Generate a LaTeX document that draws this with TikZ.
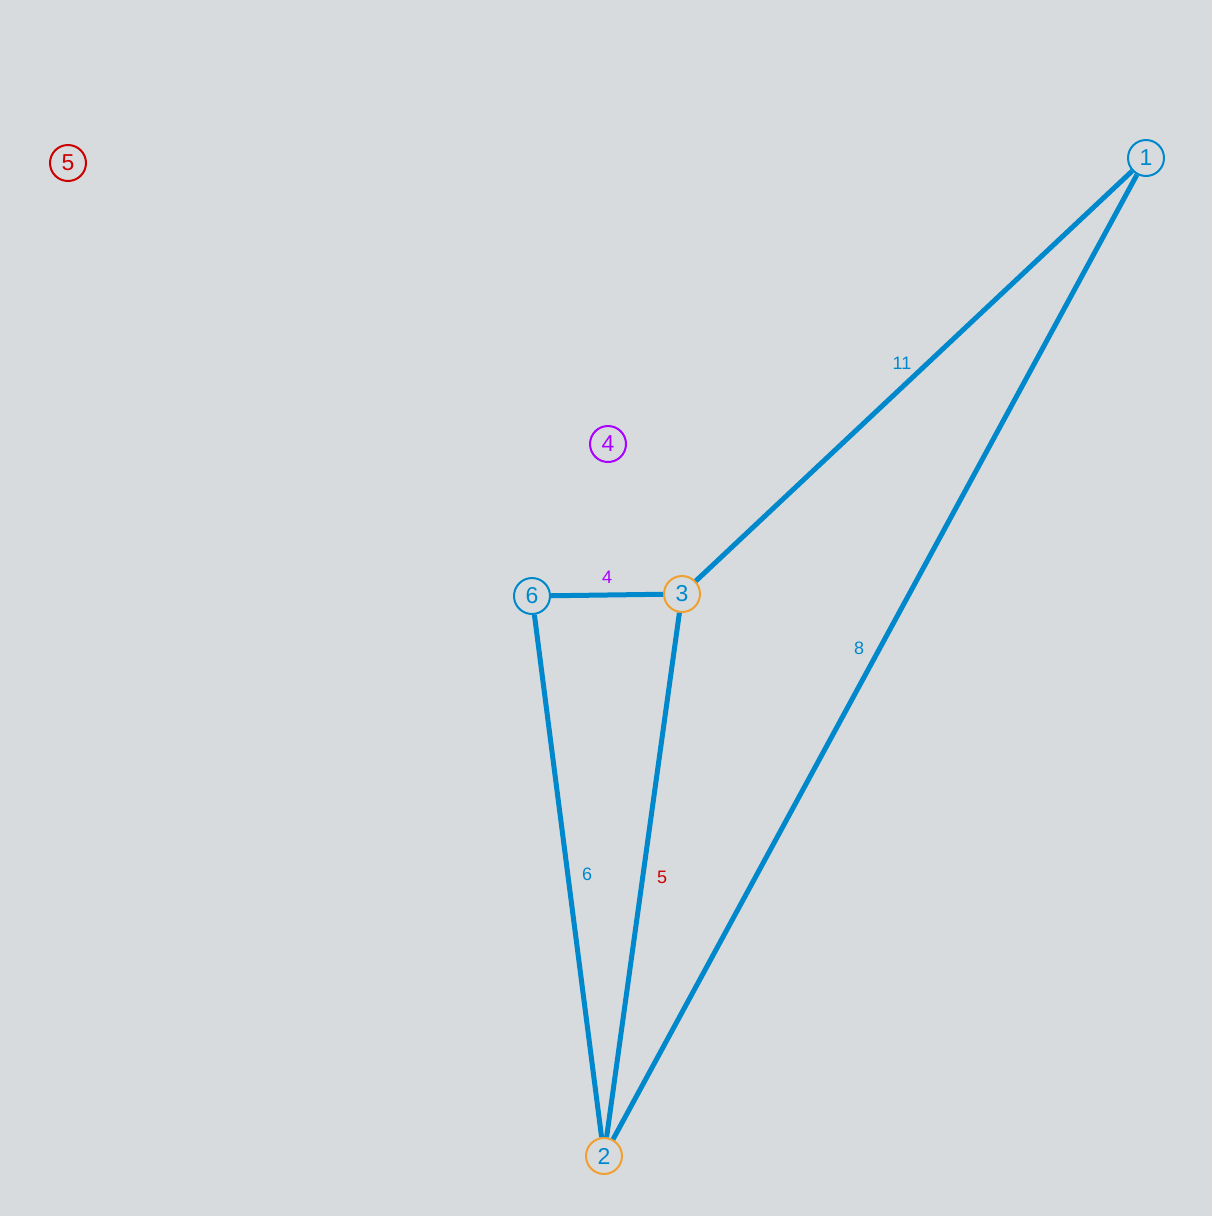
\documentclass[tikz,border=0pt]{standalone}
\usepackage{fontspec}
\setmainfont{Liberation Sans}
\definecolor{bg}{HTML}{D7DBDD}
\definecolor{eblue}{HTML}{0088CC}
\definecolor{eorange}{HTML}{F0A030}
\definecolor{ered}{HTML}{CC0000}
\definecolor{epurple}{HTML}{AA00FF}
\tikzset{
  vert/.style={circle, draw=#1, line width=2pt, minimum size=36pt, inner sep=0pt, font=\fontsize{23}{23}\selectfont},
  edge/.style={draw=eblue, line width=5pt},
  elabel/.style={font=\fontsize{18}{18}\selectfont, inner sep=0pt}
}
\begin{document}
\begin{tikzpicture}[x=1pt,y=-1pt]
\useasboundingbox[fill=bg] (0,0) rectangle (1212,1216);
\node[vert=eblue, text=eblue] (n1) at (1146,158) {1};
\node[vert=eorange, text=eblue] (n2) at (604,1156) {2};
\node[vert=eorange, text=eblue] (n3) at (682,594) {3};
\node[vert=epurple, text=epurple] (n4) at (608,444) {4};
\node[vert=ered, text=ered] (n5) at (68,163) {5};
\node[vert=eblue, text=eblue] (n6) at (532,596) {6};
\draw[edge] (n1) -- (n3);
\draw[edge] (n1) -- (n2);
\draw[edge] (n6) -- (n3);
\draw[edge] (n6) -- (n2);
\draw[edge] (n3) -- (n2);
\node[elabel, text=eblue] (l11) at (902,363) {11};
\node[elabel, text=eblue] (l8) at (859,648) {8};
\node[elabel, text=epurple] (l4) at (607,577) {4};
\node[elabel, text=eblue] (l6) at (587,874) {6};
\node[elabel, text=ered] (l5) at (662,877) {5};
\end{tikzpicture}
\end{document}
